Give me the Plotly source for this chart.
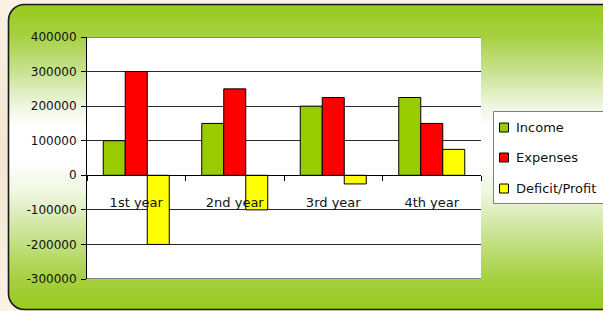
import base64
import plotly.graph_objects as go

categories = ["1st year", "2nd year", "3rd year", "4th year"]
income = [100000, 150000, 200000, 225000]
expenses = [300000, 250000, 225000, 150000]
deficit_profit = [-200000, -100000, -25000, 75000]
series_names = ["Income", "Expenses", "Deficit/Profit"]
series_colors = ["#99CC00", "#FF0000", "#FFFF00"]
y_ticks = [400000, 300000, 200000, 100000, 0, -100000, -200000, -300000]
y_min, y_max = -300000, 400000

W, H = 603, 311
ML, MR, MT, MB = 87, 122, 37, 32
PW, PH = W - ML - MR, H - MT - MB


def px_x(px):
    return (px - ML) / PW


def px_y(py):
    return (H - MB - py) / PH


svg = f'''<svg xmlns="http://www.w3.org/2000/svg" width="{W}" height="{H}" viewBox="0 0 {W} {H}">
<defs>
<linearGradient id="g" x1="0" y1="0" x2="0" y2="1">
<stop offset="0" stop-color="#98CA1C"/>
<stop offset="0.10" stop-color="#A6D040"/>
<stop offset="0.22" stop-color="#C8E290"/>
<stop offset="0.33" stop-color="#EEF6DE"/>
<stop offset="0.40" stop-color="#FFFFFF"/>
<stop offset="0.52" stop-color="#FFFFFF"/>
<stop offset="0.62" stop-color="#EEF6DE"/>
<stop offset="0.76" stop-color="#C8E290"/>
<stop offset="0.90" stop-color="#A6D040"/>
<stop offset="1" stop-color="#98CA1C"/>
</linearGradient>
<radialGradient id="p" cx="0" cy="0.5" r="0.6">
<stop offset="0" stop-color="#F3E6D0"/>
<stop offset="1" stop-color="#FBF4E8"/>
</radialGradient>
</defs>
<rect x="0" y="0" width="{W}" height="{H}" fill="url(#p)"/>
<rect x="8.5" y="4.5" width="640" height="305" rx="16" ry="16" fill="url(#g)" stroke="#1A1A1A" stroke-width="1.6"/>
</svg>'''
bg_uri = "data:image/svg+xml;base64," + base64.b64encode(svg.encode()).decode()

fig = go.Figure()
for name, vals, col in zip(series_names, [income, expenses, deficit_profit], series_colors):
    fig.add_trace(go.Bar(
        x=categories, y=vals, name=name,
        marker=dict(color=col, line=dict(color="#000000", width=1)),
    ))

font_family = "DejaVu Sans"

shapes = [
    # white plot area
    dict(type="rect", xref="paper", yref="paper", x0=0, x1=1, y0=0, y1=1,
         fillcolor="#FFFFFF", line=dict(width=0), layer="below"),
    # top and bottom frame lines of the plot area (400000 and -300000 rules)
    dict(type="line", xref="paper", yref="y", x0=0, x1=1, y0=y_max, y1=y_max,
         line=dict(color="#111111", width=1.2), layer="above"),
    dict(type="line", xref="paper", yref="y", x0=0, x1=1, y0=y_min, y1=y_min,
         line=dict(color="#111111", width=1.2), layer="above"),
    # legend box
    dict(type="rect", xref="paper", yref="paper",
         x0=px_x(493.5), x1=px_x(640), y0=px_y(203.5), y1=px_y(111.5),
         fillcolor="#FFFFFF", line=dict(color="#7F7F7F", width=1), layer="above"),
]
annotations = []
legend_rows = [127.5, 157.5, 188.5]
for name, col, ry in zip(series_names, series_colors, legend_rows):
    shapes.append(dict(
        type="rect", xref="paper", yref="paper",
        x0=px_x(499.5), x1=px_x(508.5), y0=px_y(ry + 4.5), y1=px_y(ry - 4.5),
        fillcolor=col, line=dict(color="#000000", width=1), layer="above",
    ))
    annotations.append(dict(
        text=name, xref="paper", yref="paper", x=px_x(514), y=px_y(ry),
        xanchor="left", yanchor="middle", showarrow=False,
        font=dict(family=font_family, size=13, color="#111111"),
    ))

fig.update_layout(
    width=W, height=H,
    margin=dict(l=ML, r=MR, t=MT, b=MB, pad=0, autoexpand=False),
    paper_bgcolor="#FBF4E8",
    plot_bgcolor="#FFFFFF",
    barmode="group", bargap=0.33, bargroupgap=0,
    font=dict(family=font_family, size=12, color="#111111"),
    showlegend=False,
    xaxis=dict(
        anchor="free", position=-y_min / (y_max - y_min),
        showline=True, linecolor="#000000", linewidth=1,
        ticks="outside", tickson="boundaries", ticklen=5, tickcolor="#000000",
        showgrid=False, tickfont=dict(family=font_family, size=13, color="#111111"),
        ticklabelstandoff=15, fixedrange=True,
    ),
    yaxis=dict(
        range=[y_min, y_max], tickvals=y_ticks, ticktext=[str(v) for v in y_ticks],
        showline=True, linecolor="#000000", linewidth=1,
        ticks="outside", ticklen=5, tickcolor="#000000",
        showgrid=True, gridcolor="#2A2A2A", gridwidth=1,
        zeroline=False,
        tickfont=dict(family=font_family, size=12, color="#111111"),
        ticklabelstandoff=2, fixedrange=True,
    ),
    shapes=shapes,
    annotations=annotations,
    images=[dict(
        source=bg_uri, xref="paper", yref="paper",
        x=-ML / PW, y=1 + MT / PH, sizex=W / PW, sizey=H / PH,
        xanchor="left", yanchor="top", sizing="stretch", layer="below",
    )],
)

fig.write_html(
    "out.html",
    config={"displayModeBar": False},
    post_script="document.body.style.margin='0';document.body.style.padding='0';"
                "document.body.style.overflow='hidden';",
)
